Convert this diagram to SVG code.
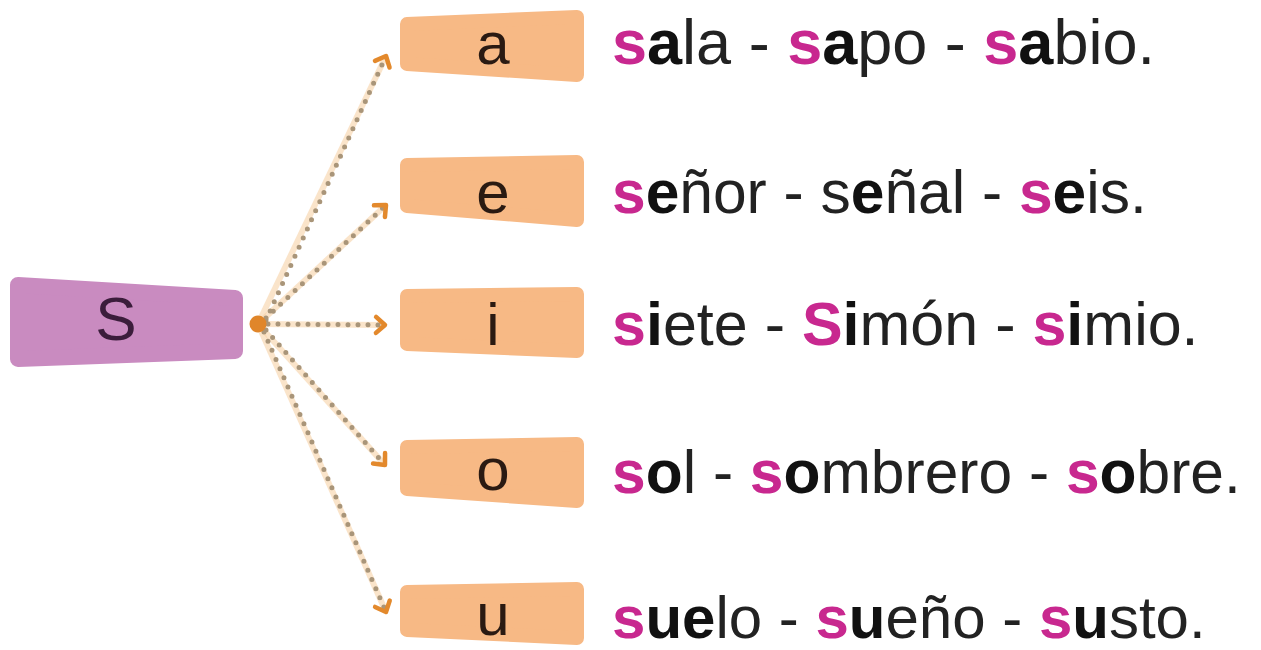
<svg xmlns="http://www.w3.org/2000/svg" width="1261" height="650" viewBox="0 0 1261 650">
<defs>
<style>
.box{fill:#f7b985;stroke:#f7b985;stroke-width:14;stroke-linejoin:round}
.sbox{fill:#c98bc0;stroke:#c98bc0;stroke-width:16;stroke-linejoin:round}
.lt{font-family:"Liberation Sans",Arial,sans-serif;font-size:60px;fill:#2a1a12;text-anchor:middle}
.w{font-family:"Liberation Sans",Arial,sans-serif;font-size:61px;fill:#222222}
.m{fill:#c8288f;font-weight:bold}
.b{font-weight:bold;fill:#111}
.halo{fill:none;stroke:#f6d2a6;stroke-width:6;opacity:0.6}
.dots{fill:none;stroke:#a99579;stroke-width:5;stroke-linecap:round;stroke-dasharray:0 10}
</style>
<marker id="arr" markerUnits="userSpaceOnUse" markerWidth="24" markerHeight="24" refX="0" refY="0" viewBox="-12 -12 24 24" orient="auto" overflow="visible">
<path d="M-9,-8 L0,0 L-9,8" fill="none" stroke="#e3892c" stroke-width="4.5" stroke-linecap="round" stroke-linejoin="round"/>
</marker>
</defs>
<rect width="1261" height="650" fill="#ffffff"/>

<g id="connectors">
<path class="halo" d="M258,324 L386,56"/>
<path class="halo" d="M258,324 L386,205"/>
<path class="halo" d="M258,324 L385,325"/>
<path class="halo" d="M258,324 L385,465"/>
<path class="halo" d="M258,324 L386,612"/>
<path class="dots" d="M266,320 L386,56" marker-end="url(#arr)"/>
<path class="dots" d="M266,318 L386,205" marker-end="url(#arr)"/>
<path class="dots" d="M268,324 L385,325" marker-end="url(#arr)"/>
<path class="dots" d="M266,330 L385,465" marker-end="url(#arr)"/>
<path class="dots" d="M264,332 L386,612" marker-end="url(#arr)"/>
</g>

<g id="node-s">
<polygon class="sbox" points="18,285 235,298 235,351 18,359"/>
<text class="lt" x="116" y="340" style="font-size:62px;fill:#3b1d3b">S</text>
</g>
<circle id="dot" cx="258" cy="324" r="8.5" fill="#e0862a"/>

<g id="node-a">
<polygon class="box" points="407,24 577,17 577,75 407,64"/>
<text class="lt" x="493" y="64">a</text>
</g>
<g id="node-e">
<polygon class="box" points="407,165 577,162 577,220 407,206"/>
<text class="lt" x="493" y="213">e</text>
</g>
<g id="node-i">
<polygon class="box" points="407,296 577,294 577,351 407,344"/>
<text class="lt" x="493" y="345">i</text>
</g>
<g id="node-o">
<polygon class="box" points="407,447 577,444 577,501 407,489"/>
<text class="lt" x="493" y="490">o</text>
</g>
<g id="node-u">
<polygon class="box" points="407,592 577,589 577,638 407,630"/>
<text class="lt" x="493" y="635">u</text>
</g>

<g id="words">
<text class="w" x="612" y="64" style="font-size:63px"><tspan class="m">s</tspan><tspan class="b">a</tspan>la - <tspan class="m">s</tspan><tspan class="b">a</tspan>po - <tspan class="m">s</tspan><tspan class="b">a</tspan>bio.</text>
<text class="w" x="612" y="213" style="font-size:60.5px"><tspan class="m">s</tspan><tspan class="b">e</tspan>ñor - s<tspan class="b">e</tspan>ñal - <tspan class="m">s</tspan><tspan class="b">e</tspan>is.</text>
<text class="w" x="612" y="345" style="font-size:61px"><tspan class="m">s</tspan><tspan class="b">i</tspan>ete - <tspan class="m">S</tspan><tspan class="b">i</tspan>món - <tspan class="m">s</tspan><tspan class="b">i</tspan>mio.</text>
<text class="w" x="612" y="493" style="font-size:60.5px"><tspan class="m">s</tspan><tspan class="b">o</tspan>l - <tspan class="m">s</tspan><tspan class="b">o</tspan>mbrero - <tspan class="m">s</tspan><tspan class="b">o</tspan>bre.</text>
<text class="w" x="612" y="638" style="font-size:60px"><tspan class="m">s</tspan><tspan class="b">ue</tspan>lo - <tspan class="m">s</tspan><tspan class="b">u</tspan>eño - <tspan class="m">s</tspan><tspan class="b">u</tspan>sto.</text>
</g>
</svg>
